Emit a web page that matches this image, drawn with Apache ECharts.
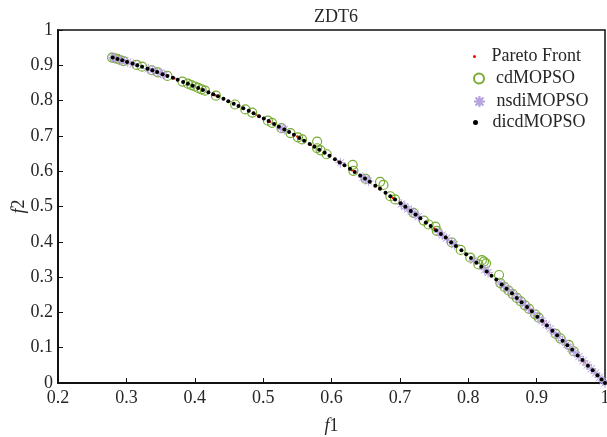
<!DOCTYPE html>
<html>
<head>
<meta charset="utf-8">
<script src="https://cdn.jsdelivr.net/npm/echarts@6/dist/echarts.min.js"></script>
<style>html,body{margin:0;padding:0;background:#fff}#c{width:607px;height:437px}</style>
</head>
<body>
<div id="c"></div>
<script>
// ---- data ----
var xTicks = [0.2, 0.3, 0.4, 0.5, 0.6, 0.7, 0.8, 0.9, 1];
var yTicks = [0, 0.1, 0.2, 0.3, 0.4, 0.5, 0.6, 0.7, 0.8, 0.9, 1];

var paretoF1 = [0.29,0.31,0.33,0.35,0.37,0.39,0.41,0.43,0.45,0.47,0.49,0.51,0.53,0.55,0.57,0.59,0.61,0.63,0.65,0.67,0.69,0.71,0.73,0.75,0.77,0.79,0.81,0.83,0.85,0.87,0.89,0.91,0.93,0.95,0.97,0.99];
var paretoF2 = [0.916,0.904,0.891,0.878,0.863,0.848,0.832,0.815,0.798,0.779,0.760,0.740,0.719,0.698,0.675,0.652,0.628,0.603,0.578,0.551,0.524,0.496,0.467,0.438,0.407,0.376,0.344,0.311,0.278,0.243,0.208,0.172,0.135,0.098,0.059,0.020];

var cdF1 = [0.279,0.283,0.287,0.291,0.296,0.315,0.323,0.337,0.346,0.360,0.382,0.390,0.395,0.400,0.405,0.410,0.415,0.431,0.459,0.474,0.484,0.507,0.513,0.527,0.540,0.551,0.557,0.579,0.579,0.584,0.593,0.631,0.632,0.650,0.671,0.676,0.686,0.693,0.720,0.735,0.742,0.752,0.754,0.776,0.789,0.803,0.815,0.820,0.823,0.826,0.845,0.847,0.853,0.859,0.865,0.871,0.877,0.883,0.889,0.898,0.903,0.928,0.935,0.947,0.954];
var cdF2 = [0.922,0.920,0.918,0.915,0.912,0.901,0.896,0.886,0.880,0.870,0.854,0.848,0.844,0.840,0.836,0.832,0.828,0.814,0.789,0.775,0.766,0.743,0.737,0.722,0.708,0.696,0.690,0.684,0.665,0.659,0.648,0.618,0.601,0.578,0.570,0.561,0.529,0.520,0.482,0.460,0.449,0.443,0.431,0.398,0.377,0.355,0.336,0.348,0.344,0.339,0.306,0.283,0.272,0.262,0.252,0.241,0.231,0.220,0.210,0.194,0.185,0.139,0.126,0.108,0.090];

var nsdiF1 = [0.279,0.283,0.287,0.292,0.297,0.302,0.310,0.332,0.338,0.345,0.350,0.356,0.526,0.531,0.613,0.646,0.650,0.654,0.702,0.707,0.712,0.717,0.722,0.727,0.757,0.762,0.768,0.776,0.780,0.808,0.824,0.829,0.846,0.852,0.858,0.864,0.870,0.876,0.882,0.888,0.895,0.902,0.908,0.914,0.920,0.926,0.932,0.938,0.944,0.950,0.956,0.962,0.968,0.974,0.980,0.986,0.992,0.997,1.000];
var nsdiF2 = [0.922,0.920,0.918,0.915,0.912,0.909,0.904,0.890,0.886,0.881,0.878,0.873,0.723,0.718,0.624,0.583,0.578,0.572,0.507,0.500,0.493,0.486,0.479,0.471,0.427,0.419,0.410,0.398,0.392,0.347,0.321,0.313,0.284,0.274,0.264,0.254,0.243,0.233,0.222,0.211,0.199,0.186,0.176,0.165,0.154,0.142,0.131,0.120,0.109,0.098,0.086,0.075,0.063,0.051,0.040,0.028,0.016,0.006,0.000];

var dicdF1 = [0.280,0.287,0.294,0.301,0.309,0.316,0.323,0.331,0.338,0.345,0.353,0.360,0.368,0.375,0.383,0.390,0.397,0.405,0.412,0.420,0.427,0.434,0.442,0.449,0.457,0.464,0.471,0.479,0.486,0.494,0.501,0.508,0.516,0.523,0.531,0.538,0.545,0.553,0.560,0.568,0.575,0.582,0.590,0.597,0.605,0.612,0.619,0.627,0.634,0.642,0.649,0.656,0.664,0.671,0.679,0.686,0.693,0.701,0.708,0.716,0.723,0.730,0.738,0.745,0.753,0.760,0.767,0.775,0.782,0.790,0.797,0.804,0.812,0.819,0.827,0.834,0.841,0.849,0.856,0.864,0.871,0.878,0.886,0.893,0.901,0.908,0.915,0.923,0.930,0.938,0.945,0.952,0.960,0.967,0.975,0.982,0.989,0.995,1.000];
var dicdF2 = [0.922,0.918,0.914,0.909,0.905,0.900,0.896,0.890,0.886,0.881,0.875,0.870,0.865,0.859,0.853,0.848,0.842,0.836,0.830,0.824,0.818,0.812,0.805,0.798,0.791,0.785,0.778,0.771,0.764,0.756,0.749,0.742,0.734,0.726,0.718,0.711,0.703,0.694,0.686,0.677,0.669,0.661,0.652,0.644,0.634,0.625,0.617,0.607,0.598,0.588,0.579,0.570,0.559,0.550,0.539,0.529,0.520,0.509,0.499,0.487,0.477,0.467,0.455,0.445,0.433,0.422,0.412,0.399,0.388,0.376,0.365,0.354,0.341,0.329,0.316,0.304,0.293,0.279,0.267,0.254,0.241,0.229,0.215,0.203,0.188,0.176,0.163,0.148,0.135,0.120,0.107,0.094,0.078,0.065,0.049,0.036,0.022,0.010,0.000];

function pairs(a, b) { return a.map(function (v, i) { return [v, b[i]]; }); }

var FONT = '"Liberation Serif", "Times New Roman", serif';
var TXT = '#262626';
var ASTER = 'path://M20 10 L11.4 10.6 L17.07 17.07 L10.6 11.4 L10 20 L9.4 11.4 L2.93 17.07 L8.6 10.6 L0 10 L8.6 9.4 L2.93 2.93 L9.4 8.6 L10 0 L10.6 8.6 L17.07 2.93 L11.4 9.4 Z';

var chart = echarts.init(document.getElementById('c'), null, {renderer: 'canvas'});

function leg(name, cy, h) {
  return {
    data: [name], left: 473, top: cy - 7.5, padding: 0,
    itemWidth: 24, itemHeight: h, selectedMode: false,
    textStyle: {fontFamily: FONT, fontSize: 18, color: TXT}
  };
}

chart.setOption({
  animation: false,
  backgroundColor: '#fff',
  title: {
    text: 'ZDT6', left: 331, top: 3, textAlign: 'center',
    textStyle: {fontFamily: FONT, fontSize: 18, fontWeight: 'normal', color: TXT}
  },
  legend: [
    leg('Pareto Front', 55, 3),
    leg('cdMOPSO', 77, 10),
    leg('nsdiMOPSO', 100, 11),
    leg('dicdMOPSO', 121, 5)
  ],
  grid: {left: 58, right: 2, top: 30, bottom: 54, outerBoundsMode: 'none', containLabel: false,
         show: true, borderColor: '#111', borderWidth: 1.5, backgroundColor: '#fff'},
  xAxis: {
    type: 'value', min: xTicks[0], max: xTicks[xTicks.length - 1], interval: 0.1,
    name: '{i|f}1', nameLocation: 'middle', nameGap: 34,
    nameTextStyle: {fontFamily: FONT, fontSize: 18, color: TXT, rich: {i: {fontFamily: FONT, fontSize: 18, fontStyle: 'italic', color: TXT}}},
    axisLine: {show: true, lineStyle: {color: '#111', width: 2}},
    axisTick: {show: true, inside: true, length: 5, lineStyle: {color: '#111', width: 1}},
    axisLabel: {fontFamily: FONT, fontSize: 18, color: TXT, margin: 6},
    splitLine: {show: false}
  },
  yAxis: {
    type: 'value', min: yTicks[0], max: yTicks[yTicks.length - 1], interval: 0.1,
    name: '{i|f}2', nameLocation: 'middle', nameGap: 30, nameRotate: 90, nameMoveOverlap: false,
    nameTextStyle: {fontFamily: FONT, fontSize: 18, color: TXT, rich: {i: {fontFamily: FONT, fontSize: 18, fontStyle: 'italic', color: TXT}}},
    axisLine: {show: true, lineStyle: {color: '#111', width: 2}},
    axisTick: {show: true, inside: true, length: 5, lineStyle: {color: '#111', width: 1}},
    axisLabel: {fontFamily: FONT, fontSize: 18, color: TXT, margin: 5},
    splitLine: {show: false}
  },
  series: [
    {
      name: 'Pareto Front', type: 'scatter', symbol: 'circle', symbolSize: 2.5,
      itemStyle: {color: '#ff0000', opacity: 1}, data: pairs(paretoF1, paretoF2), z: 2
    },
    {
      name: 'cdMOPSO', type: 'scatter', symbol: 'circle', symbolSize: 9,
      itemStyle: {color: 'rgba(255,255,255,0)', borderColor: '#77ac30', borderWidth: 1.2, opacity: 1},
      data: pairs(cdF1, cdF2), z: 3
    },
    {
      name: 'nsdiMOPSO', type: 'scatter', symbol: ASTER, symbolSize: 10,
      itemStyle: {color: '#b6a3dc', borderColor: '#b6a3dc', borderWidth: 0.6, opacity: 1},
      data: pairs(nsdiF1, nsdiF2), z: 4
    },
    {
      name: 'dicdMOPSO', type: 'scatter', symbol: 'circle', symbolSize: 4,
      itemStyle: {color: '#000', opacity: 1}, data: pairs(dicdF1, dicdF2), z: 5
    }
  ]
});
</script>
</body>
</html>
